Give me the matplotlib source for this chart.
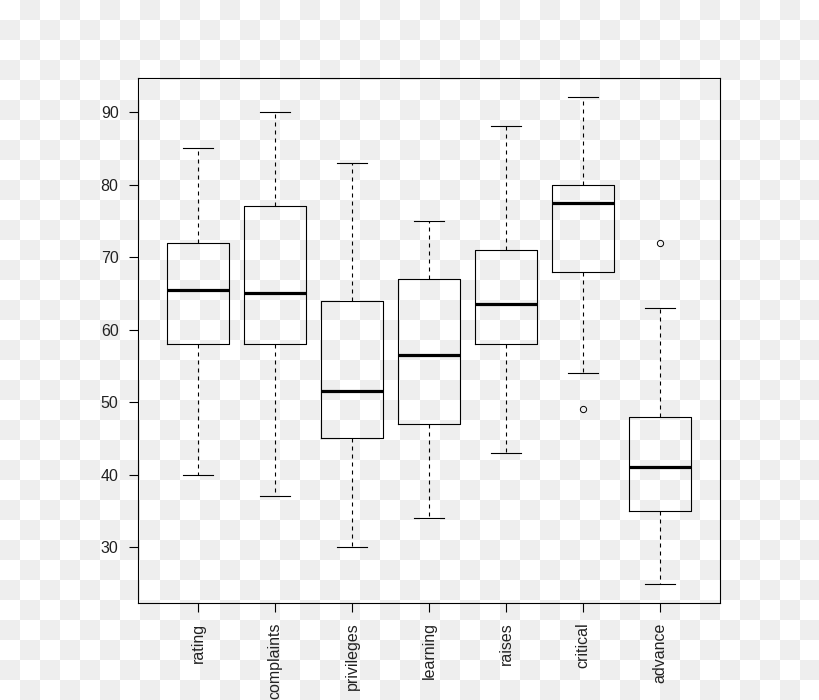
import numpy as np
import matplotlib
matplotlib.use('Agg')
import matplotlib.pyplot as plt

# five-number summaries
categories = ["rating", "complaints", "privileges", "learning", "raises", "critical", "advance"]
whisker_lo = [40, 37, 30, 34, 43, 54, 25]
q1 = [58, 58, 45, 47, 58, 68, 35]
median = [65.5, 65, 51.5, 56.5, 63.5, 77.5, 41]
q3 = [72, 77, 64, 67, 71, 80, 48]
whisker_hi = [85, 90, 83, 75, 88, 92, 63]
outliers = [[], [], [], [], [], [49], [72]]

plt.rcParams['font.family'] = ['Liberation Sans', 'DejaVu Sans']

fig = plt.figure(figsize=(8.2, 7), dpi=100)
fig.patch.set_alpha(0)

# checkered "transparent" background of the source image
rows, cols = np.indices((700, 820))
checker = ((rows // 20 + cols // 20) % 2).astype(float)
bg = np.where(checker[..., None] > 0, 0.937, 1.0) * np.ones((700, 820, 3))
fig.figimage(bg, xo=0, yo=0, origin='upper', zorder=-10)

ax = fig.add_axes([138 / 820, 1 - 603 / 700, 582 / 820, 525 / 700])
ax.set_facecolor('none')
ax.set_zorder(5)

stats = []
for i, name in enumerate(categories):
    stats.append({
        "label": name,
        "whislo": whisker_lo[i],
        "q1": q1[i],
        "med": median[i],
        "q3": q3[i],
        "whishi": whisker_hi[i],
        "fliers": outliers[i],
    })

positions = np.arange(1, len(categories) + 1)
ax.bxp(stats, positions=positions, widths=0.8, capwidths=0.4,
       boxprops=dict(color='black', linewidth=0.8),
       whiskerprops=dict(color='black', linewidth=0.8, linestyle=(0, (3.6, 3.6))),
       capprops=dict(color='black', linewidth=0.8),
       medianprops=dict(color='black', linewidth=2.3, solid_capstyle='butt'),
       flierprops=dict(marker='o', markersize=4.5, markerfacecolor='none',
                       markeredgecolor='black', markeredgewidth=0.7))

lo = min(min(whisker_lo), min(min(o) for o in outliers if o))
hi = max(max(whisker_hi), max(max(o) for o in outliers if o))
pad = (hi - lo) * 0.04
ax.set_ylim(lo - pad, hi + pad)
ax.set_xlim(0.5 - 0.28, len(categories) + 0.5 + 0.28)

ax.set_yticks([30, 40, 50, 60, 70, 80, 90])
ax.set_xticks(positions)
ax.set_xticklabels(categories, rotation=90, va='top')
ax.tick_params(axis='both', length=6.5, width=0.8, pad=7.5, labelsize=11.5,
               labelcolor='#222222', color='black')

for s in ax.spines.values():
    s.set_linewidth(0.8)
    s.set_color('black')

fig.savefig('out.png', dpi=100)
